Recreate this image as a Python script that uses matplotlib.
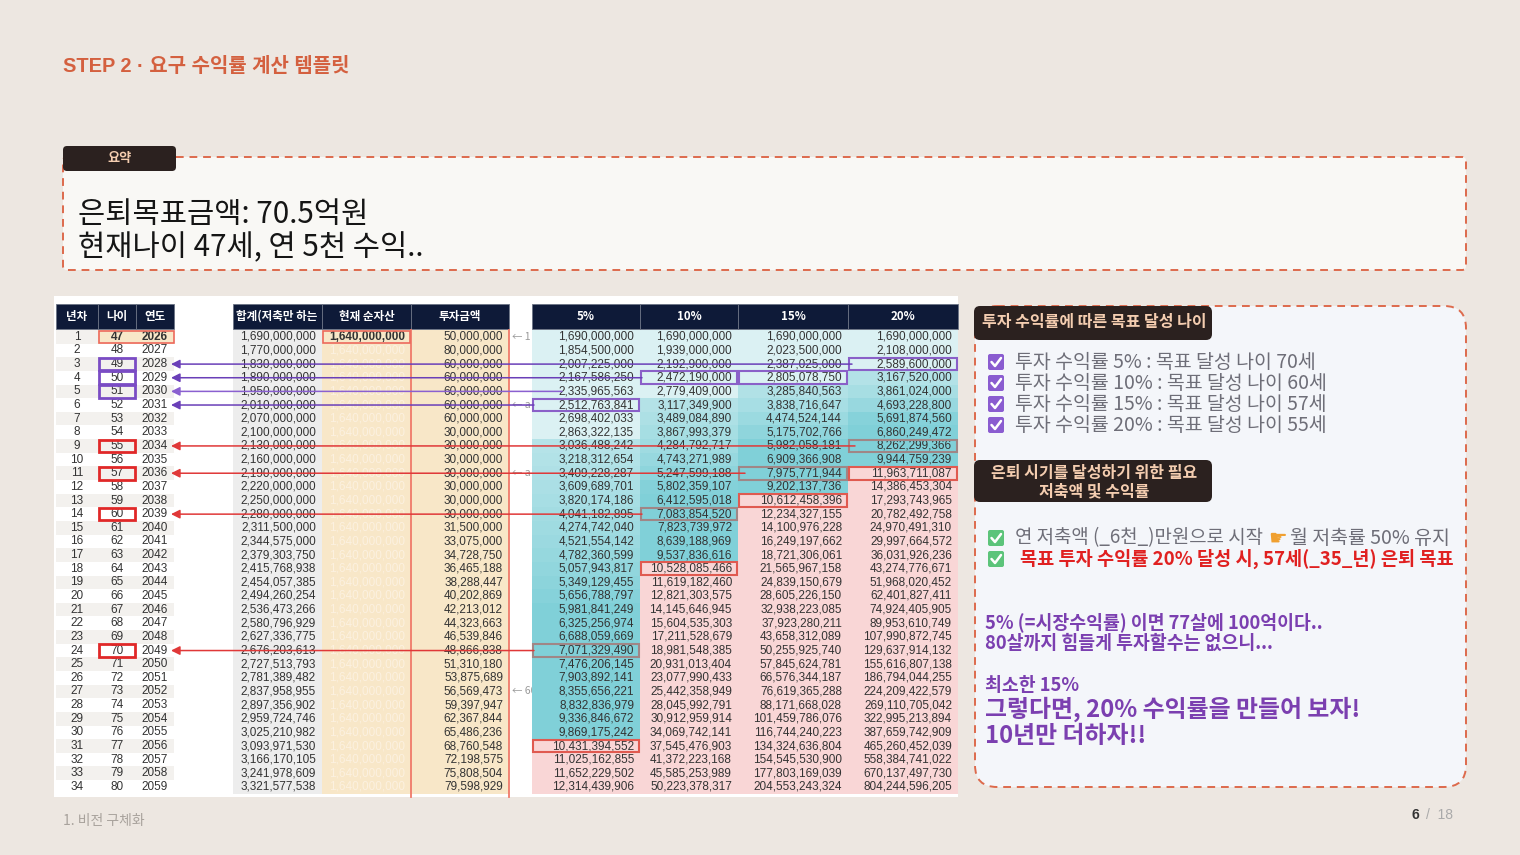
import matplotlib.pyplot as plt
from matplotlib.patches import Rectangle, FancyBboxPatch
import matplotlib.colors as mcolors

plt.rcParams['font.family'] = ['Noto Sans CJK KR', 'DejaVu Sans']
NUM_FONT = ['Liberation Sans', 'Noto Sans CJK KR']

# ---- Data ----
year_no = [1, 2, 3, 4, 5, 6, 7, 8, 9, 10, 11, 12, 13, 14, 15, 16, 17,
           18, 19, 20, 21, 22, 23, 24, 25, 26, 27, 28, 29, 30, 31, 32, 33, 34]
ages = [47, 48, 49, 50, 51, 52, 53, 54, 55, 56, 57, 58, 59, 60, 61, 62, 63,
        64, 65, 66, 67, 68, 69, 70, 71, 72, 73, 74, 75, 76, 77, 78, 79, 80]
years = [2026, 2027, 2028, 2029, 2030, 2031, 2032, 2033, 2034, 2035, 2036,
         2037, 2038, 2039, 2040, 2041, 2042, 2043, 2044, 2045, 2046, 2047,
         2048, 2049, 2050, 2051, 2052, 2053, 2054, 2055, 2056, 2057, 2058, 2059]
saving_only = [1690000000, 1770000000, 1830000000, 1890000000, 1950000000,
               2010000000, 2070000000, 2100000000, 2130000000, 2160000000,
               2190000000, 2220000000, 2250000000, 2280000000, 2311500000,
               2344575000, 2379303750, 2415768938, 2454057385, 2494260254,
               2536473266, 2580796929, 2627336775, 2676203613, 2727513793,
               2781389482, 2837958955, 2897356902, 2959724746, 3025210982,
               3093971530, 3166170105, 3241978609, 3321577538]
net_asset = [1640000000] * 34
invest = [50000000, 80000000, 60000000, 60000000, 60000000, 60000000,
          60000000, 30000000, 30000000, 30000000, 30000000, 30000000,
          30000000, 30000000, 31500000, 33075000, 34728750, 36465188,
          38288447, 40202869, 42213012, 44323663, 46539846, 48866838,
          51310180, 53875689, 56569473, 59397947, 62367844, 65486236,
          68760548, 72198575, 75808504, 79598929]
r5 = [1690000000, 1854500000, 2007225000, 2167586250, 2335965563, 2512763841,
      2698402033, 2863322135, 3036488242, 3218312654, 3409228287, 3609689701,
      3820174186, 4041182895, 4274742040, 4521554142, 4782360599, 5057943817,
      5349129455, 5656788797, 5981841249, 6325256974, 6688059669, 7071329490,
      7476206145, 7903892141, 8355656221, 8832836979, 9336846672, 9869175242,
      10431394552, 11025162855, 11652229502, 12314439906]
r10 = [1690000000, 1939000000, 2192900000, 2472190000, 2779409000, 3117349900,
       3489084890, 3867993379, 4284792717, 4743271989, 5247599188, 5802359107,
       6412595018, 7083854520, 7823739972, 8639188969, 9537836616, 10528085466,
       11619182460, 12821303575, 14145646945, 15604535303, 17211528679,
       18981548385, 20931013404, 23077990433, 25442358949, 28045992791,
       30912959914, 34069742141, 37545476903, 41372223168, 45585253989,
       50223378317]
r15 = [1690000000, 2023500000, 2387025000, 2805078750, 3285840563, 3838716647,
       4474524144, 5175702766, 5982058181, 6909366908, 7975771944, 9202137736,
       10612458396, 12234327155, 14100976228, 16249197662, 18721306061,
       21565967158, 24839150679, 28605226150, 32938223085, 37923280211,
       43658312089, 50255925740, 57845624781, 66576344187, 76619365288,
       88171668028, 101459786076, 116744240223, 134324636804, 154545530900,
       177803169039, 204553243324]
r20 = [1690000000, 2108000000, 2589600000, 3167520000, 3861024000, 4693228800,
       5691874560, 6860249472, 8262299366, 9944759239, 11963711087,
       14386453304, 17293743965, 20782492758, 24970491310, 29997664572,
       36031926236, 43274776671, 51968020452, 62401827411, 74924405905,
       89953610749, 107990872745, 129637914132, 155616807138, 186794044255,
       224209422579, 269110705042, 322995213894, 387659742909, 465260452039,
       558384741022, 670137497730, 804244596205]
rate_labels = ['5%', '10%', '15%', '20%']
rate_series = [r5, r10, r15, r20]

goal_checks = ['투자 수익률 5% : 목표 달성 나이 70세',
               '투자 수익률 10% : 목표 달성 나이 60세',
               '투자 수익률 15% : 목표 달성 나이 57세',
               '투자 수익률 20% : 목표 달성 나이 55세']

# ---- Figure ----
fig = plt.figure(figsize=(15.2, 8.55), dpi=100)
fig.patch.set_facecolor('#ede7e1')
ax = fig.add_axes([0, 0, 1, 1])
ax.set_xlim(0, 1520)
ax.set_ylim(855, 0)
ax.axis('off')

ORANGE = '#d4603f'
DARK_TAG = '#2b211f'
TAG_TXT = '#f4cdb0'

ax.text(63, 67, 'STEP 2 · 요구 수익률 계산 템플릿', fontsize=14.4, fontweight='bold',
        color=ORANGE, va='center', family=NUM_FONT)

# summary box
ax.add_patch(FancyBboxPatch((63, 157), 1403, 113, boxstyle='round,pad=0,rounding_size=4',
                            fc='#f9f8f5', ec='#dd6a4c', lw=1.4, ls=(0, (4, 3)), zorder=1))
ax.add_patch(FancyBboxPatch((63, 146), 113, 25, boxstyle='round,pad=0,rounding_size=4',
                            fc=DARK_TAG, ec='none', zorder=2))
ax.text(120, 158, '요약', fontsize=9.5, fontweight='bold', color=TAG_TXT,
        ha='center', va='center', zorder=3)
ax.text(78, 214, '은퇴목표금액: 70.5억원', fontsize=21.3, color='#151515', va='center')
ax.text(78, 248, '현재나이 47세, 연 5천 수익..', fontsize=21.3, color='#151515', va='center')

# ---- Table ----
ax.add_patch(Rectangle((54, 296), 904, 501, fc='white', ec='none', zorder=1))
ROW0, RH = 330, 13.64
cols = [(56, 98), (98, 136), (136, 174), (233, 322), (322, 411), (411, 509),
        (532, 640), (640, 738), (738, 848), (848, 958)]
headers = ['년차', '나이', '연도', '합계(저축만 하는', '현재 순자산', '투자금액'] + rate_labels
NAVY = '#0e1a38'


def rowc(i):
    return ROW0 + (i + 0.5) * RH


def mix(c1, c2, t):
    a, b = mcolors.to_rgb(c1), mcolors.to_rgb(c2)
    return tuple(a[k] + (b[k] - a[k]) * t for k in range(3))


def rate_color(v):
    if v >= 1e10:
        return '#f9d6d6'
    if v < 3e9:
        return '#dbf1f3'
    t = min((v - 3e9) / 3e9, 1.0)
    return mix('#b6e3e8', '#80d0d8', t)


for j, ((x0, x1), h) in enumerate(zip(cols, headers)):
    ax.add_patch(Rectangle((x0, 304), x1 - x0, 25, fc=NAVY, ec='#6b7385', lw=0.6, zorder=2))
    clip = Rectangle((x0, 304), x1 - x0, 25, transform=ax.transData)
    t = ax.text((x0 + x1) / 2 if j != 3 else x0 + 3, 316.5, h, fontsize=8.3,
                fontweight='bold', color='white', ha='center' if j != 3 else 'left',
                va='center', zorder=3)
    t.set_clip_path(clip)

n = len(year_no)
for i in range(n):
    y = rowc(i)
    top = ROW0 + i * RH
    band = '#f3f1ee' if i % 2 == 0 else 'white'
    for j in range(3):
        x0, x1 = cols[j]
        fc = '#f8e7c8' if (i == 0 and j > 0) else band
        ax.add_patch(Rectangle((x0, top), x1 - x0, RH, fc=fc, ec='none', zorder=2))
    ax.add_patch(Rectangle((233, top), 89, RH, fc='#ededed', ec='none', zorder=2))
    ax.add_patch(Rectangle((322, top), 187, RH, fc='#f8e7c8', ec='none', zorder=2))
    bold = 'bold' if i == 0 else 'normal'
    ax.text(77, y, str(year_no[i]), fontsize=8.5, ha='center', va='center',
            color='#333333', family=NUM_FONT, zorder=4)
    ax.text(117, y, str(ages[i]), fontsize=8.5, ha='center', va='center',
            color='#333333', family=NUM_FONT, fontweight=bold, zorder=4)
    ax.text(155, y, str(years[i]), fontsize=8.5, ha='center', va='center',
            color='#333333', family=NUM_FONT, fontweight=bold, zorder=4)
    ax.text(316, y, f'{saving_only[i]:,}', fontsize=8.5, ha='right', va='center',
            color='#333333', family=NUM_FONT, zorder=4)
    ax.text(405, y, f'{net_asset[i]:,}', fontsize=8.5, ha='right', va='center',
            color='#333333' if i == 0 else '#fcf1e0', fontweight=bold,
            family=NUM_FONT, zorder=4)
    ax.text(503, y, f'{invest[i]:,}', fontsize=8.5, ha='right', va='center',
            color='#333333', family=NUM_FONT, zorder=4)
    for k, series in enumerate(rate_series):
        x0, x1 = cols[6 + k]
        v = series[i]
        ax.add_patch(Rectangle((x0, top), x1 - x0, RH, fc=rate_color(v), ec='none', zorder=3))
        ax.text(x1 - 6, y, f'{v:,}', fontsize=8.5, ha='right', va='center',
                color='#333333', family=NUM_FONT, zorder=4)

# small notes in the gap column
for i, note in [(0, '← 1'), (5, '← a'), (10, '← a'), (26, '← 60')]:
    ax.text(512, rowc(i), note, fontsize=7.5, color='#999999', style='italic',
            va='center', zorder=2)

# red border of 투자금액 column
ax.plot([411, 411], [ROW0, 797], color='#f07a6a', lw=1.3, zorder=5)
ax.plot([509, 509], [ROW0, 797], color='#f07a6a', lw=1.3, zorder=5)


def box(j, i, color, lw=1.6):
    x0, x1 = cols[j]
    ax.add_patch(Rectangle((x0 + 1, ROW0 + i * RH + 0.5), x1 - x0 - 2, RH - 1,
                           fc='none', ec=color, lw=lw, zorder=7))


PURPLE = '#7a4cc4'
RED = '#e02828'
GREY = '#a08686'
ax.add_patch(Rectangle((99, ROW0 + 0.5), 75, RH - 1, fc='none', ec='#ec6a5c', lw=1.2, zorder=7))
box(4, 0, '#ec6a5c', 1.2)
for i in [2, 3, 4]:
    box(1, i, PURPLE, 2)
for i in [8, 10, 13, 23]:
    box(1, i, RED, 2)

for j, i in [(9, 2), (7, 3), (8, 3), (6, 5)]:
    box(j, i, '#8a60c8', 1.5)
for j, i in [(9, 8), (8, 10), (7, 13), (6, 23)]:
    box(j, i, GREY, 1.5)
for j, i in [(9, 10), (8, 12), (7, 17), (6, 30)]:
    box(j, i, '#e05a50', 1.5)

# arrows back to the year column
for i, xe, c in [(2, 852, '#6a3fb8'), (3, 642, '#6a3fb8'), (4, 562, '#8a60d0'),
                 (5, 534, '#6a3fb8'), (8, 855, '#e03838'), (10, 745, '#e03838'),
                 (13, 642, '#e03838'), (23, 534, '#e03838')]:
    ax.annotate('', xy=(171, rowc(i)), xytext=(xe, rowc(i)),
                arrowprops=dict(arrowstyle='-|>', color=c, lw=1.1, mutation_scale=13,
                                shrinkA=0, shrinkB=0), zorder=8)

# ---- Right panel ----
ax.add_patch(FancyBboxPatch((975, 306), 491, 481, boxstyle='round,pad=0,rounding_size=22',
                            fc='#f4f6fa', ec='#dd6a4c', lw=1.4, ls=(0, (4, 3)), zorder=1))
ax.add_patch(FancyBboxPatch((974, 306), 238, 34, boxstyle='round,pad=0,rounding_size=6',
                            fc=DARK_TAG, ec='none', zorder=2))
ax.text(1094, 322, '투자 수익률에 따른 목표 달성 나이', fontsize=11.5, fontweight='bold',
        color=TAG_TXT, ha='center', va='center', zorder=3)
ax.add_patch(FancyBboxPatch((974, 460), 238, 42, boxstyle='round,pad=0,rounding_size=6',
                            fc=DARK_TAG, ec='none', zorder=2))
ax.text(1094, 473, '은퇴 시기를 달성하기 위한 필요', fontsize=11.5, fontweight='bold',
        color=TAG_TXT, ha='center', va='center', zorder=3)
ax.text(1094, 491, '저축액 및 수익률', fontsize=11.5, fontweight='bold',
        color=TAG_TXT, ha='center', va='center', zorder=3)


def checkbox(x, y, color):
    ax.add_patch(FancyBboxPatch((x - 8, y - 8), 16, 16, boxstyle='round,pad=0,rounding_size=2',
                                fc=color, ec='none', zorder=3))
    ax.plot([x - 4.5, x - 1, x + 5], [y, y + 4, y - 4], color='white', lw=1.8,
            solid_capstyle='round', solid_joinstyle='round', zorder=4)


for k, line in enumerate(goal_checks):
    y = 362 + k * 21
    checkbox(996, y, '#8a5cd0')
    ax.text(1015, y, line, fontsize=14, color='#6e6e78', va='center', zorder=3)

checkbox(996, 538, '#5cc47a')
ax.text(1015, 538, '연 저축액 (_6천_)만원으로 시작', fontsize=13.6, color='#6e6e78', va='center')
ax.text(1268, 539, '☛', fontsize=15, color='#f0a030', va='center', family=['DejaVu Sans'])
ax.text(1290, 538, '월 저축률 50% 유지', fontsize=14, color='#6e6e78', va='center')
checkbox(996, 559, '#5cc47a')
ax.text(1020, 559, '목표 투자 수익률 20% 달성 시, 57세(_35_년) 은퇴 목표', fontsize=13.4,
        fontweight='bold', color='#e02020', va='center')

PTXT = '#7b3fb0'
ax.text(985, 622, '5% (=시장수익률) 이면 77살에 100억이다..', fontsize=13.2,
        fontweight='bold', color=PTXT, va='center')
ax.text(985, 643, '80살까지 힘들게 투자할수는 없으니...', fontsize=13.2,
        fontweight='bold', color=PTXT, va='center')
ax.text(985, 685, '최소한 15%', fontsize=13.2, fontweight='bold', color=PTXT, va='center')
ax.text(985, 709, '그렇다면, 20% 수익률을 만들어 보자!', fontsize=17.2, fontweight='bold',
        color=PTXT, va='center')
ax.text(985, 736, '10년만 더하자!!', fontsize=17.2, fontweight='bold', color=PTXT, va='center')

# ---- Footer ----
ax.text(63, 821, '1. 비전 구체화', fontsize=10, color='#a8a29c', va='center')
ax.text(1412, 815, '6', fontsize=10, fontweight='bold', color='#333333', va='center',
        family=NUM_FONT)
ax.text(1426, 815, '/  18', fontsize=10, color='#aaaaaa', va='center', family=NUM_FONT)

fig.savefig('out.png', dpi=100, facecolor=fig.get_facecolor())
